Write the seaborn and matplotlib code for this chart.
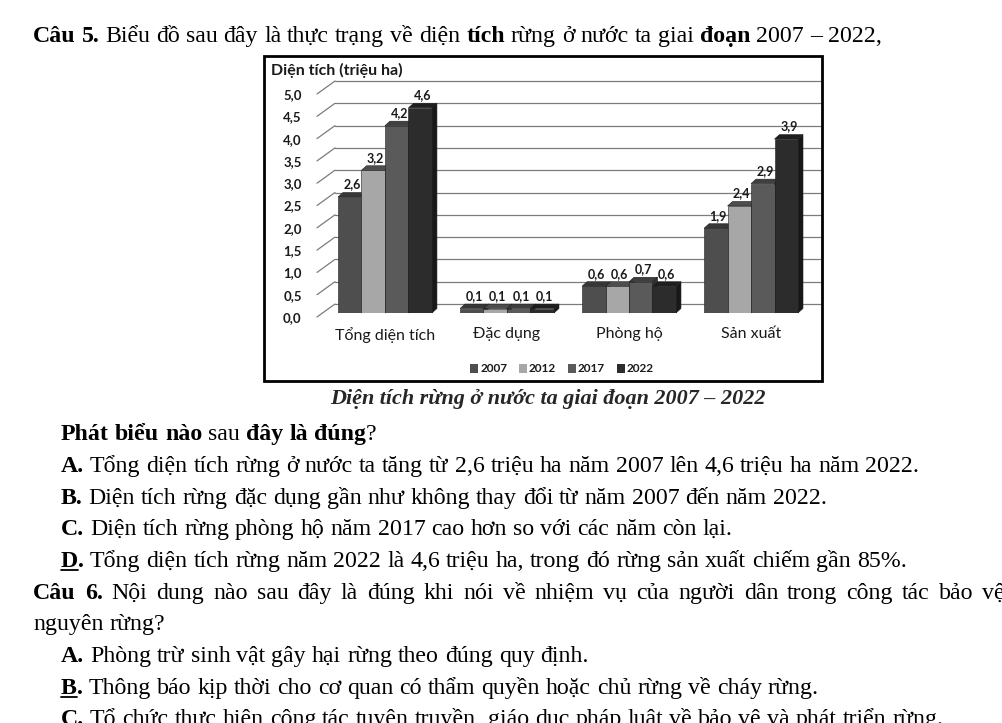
import numpy as np
import pandas as pd
import seaborn as sns
import matplotlib
matplotlib.use("Agg")
import matplotlib.pyplot as plt
from matplotlib.transforms import ScaledTranslation, IdentityTransform
from matplotlib.patches import Polygon, Rectangle, Patch
from matplotlib.lines import Line2D
import matplotlib.colors as mcolors

# ---------------- data ----------------
categories = ["Tổng diện tích", "Đặc dụng", "Phòng hộ", "Sản xuất"]
years = ["2007", "2012", "2017", "2022"]
values_2007 = [2.6, 0.1, 0.6, 1.9]
values_2012 = [3.2, 0.1, 0.6, 2.4]
values_2017 = [4.2, 0.1, 0.7, 2.9]
values_2022 = [4.6, 0.1, 0.6, 3.9]
y_ticks = [0.0, 0.5, 1.0, 1.5, 2.0, 2.5, 3.0, 3.5, 4.0, 4.5, 5.0]
y_tick_labels = ["0,0", "0,5", "1,0", "1,5", "2,0", "2,5", "3,0", "3,5", "4,0", "4,5", "5,0"]
y_title = "Diện tích (triệu ha)"
caption = "Diện tích rừng ở nước ta giai đoạn 2007 – 2022"
bar_colors = ["#4e4e4e", "#a7a7a7", "#5a5a5a", "#2c2c2c"]

header = [("Câu 5.", "b"), (" Biểu đồ sau đây là thực trạng về diện ", "r"), ("tích", "b"),
          (" rừng ở nước ta giai ", "r"), ("đoạn", "b"), (" 2007 – 2022,", "r")]
question = [("Phát biểu nào", "b"), (" sau ", "r"), ("đây là đúng", "b"), ("?", "r")]
opt_a = [("A.", "b"), (" Tổng diện tích rừng ở nước ta tăng từ 2,6 triệu ha năm 2007 lên 4,6 triệu ha năm 2022.", "r")]
opt_b = [("B.", "b"), (" Diện tích rừng đặc dụng gần như không thay đổi từ năm 2007 đến năm 2022.", "r")]
opt_c = [("C.", "b"), (" Diện tích rừng phòng hộ năm 2017 cao hơn so với các năm còn lại.", "r")]
opt_d = [("D", "bu"), (".", "b"), (" Tổng diện tích rừng năm 2022 là 4,6 triệu ha, trong đó rừng sản xuất chiếm gần 85%.", "r")]
q6_line1 = [("Câu 6.", "b"), (" Nội dung nào sau đây là đúng khi nói về nhiệm vụ của người dân trong công tác bảo vệ", "r")]
q6_line2 = [("nguyên rừng?", "r")]
q6_a = [("A.", "b"), (" Phòng trừ sinh vật gây hại rừng theo đúng quy định.", "r")]
q6_b = [("B", "bu"), (".", "b"), (" Thông báo kịp thời cho cơ quan có thẩm quyền hoặc chủ rừng về cháy rừng.", "r")]
q6_c = [("C.", "b"), (" Tổ chức thực hiện công tác tuyên truyền, giáo dục pháp luật về bảo vệ và phát triển rừng.", "r")]

# ---------------- figure ----------------
sns.set_theme(style="white")
plt.rcParams["font.family"] = ["Lato", "DejaVu Sans"]

W, H = 1002, 723
fig = plt.figure(figsize=(W / 100, H / 100), dpi=100)
fig.patch.set_facecolor("white")

def fx(px):
    return px / W

def fy(py):
    return 1 - py / H

ax = fig.add_axes([fx(317), fy(313), (803 - 317) / W, 223 / H])
ax.set_facecolor("none")

rows = []
for yr, vals in zip(years, [values_2007, values_2012, values_2017, values_2022]):
    for c, v in zip(categories, vals):
        rows.append({"cat": c, "val": v, "year": yr})
df = pd.DataFrame(rows)

sns.barplot(data=df, x="cat", y="val", hue="year", order=categories, hue_order=years,
            palette=dict(zip(years, bar_colors)), width=0.77, saturation=1,
            errorbar=None, legend=False, ax=ax, linewidth=0.4, edgecolor="#1e1e1e")

ax.set_xlim(-0.557, 3.426)
ax.set_ylim(0, 5)
for s in ax.spines.values():
    s.set_visible(False)
ax.set_xlabel("")
ax.set_ylabel("")
ax.grid(False)

ax.set_yticks(y_ticks)
ax.set_yticklabels(y_tick_labels, fontsize=9.5, fontweight="bold", color="#1a1a1a")
ax.tick_params(axis="y", length=0, pad=11)
for lab in ax.get_yticklabels():
    lab.set_transform(lab.get_transform() + ScaledTranslation(0, -0.04, fig.dpi_scale_trans))
ax.tick_params(axis="x", length=0, pad=10)
for lab in ax.get_xticklabels():
    lab.set_fontsize(11.5)
    lab.set_color("#1a1a1a")

# back-wall grid (3D look)
wall_dx, wall_dy = 18, 13
grid_tr = ax.get_yaxis_transform() + ScaledTranslation(wall_dx / 100, 0.09, fig.dpi_scale_trans)
for v in y_ticks:
    ax.add_line(Line2D([0, 1], [v, v], transform=grid_tr, color="#7c7c7c", lw=0.9,
                       zorder=0.5, clip_on=False))
    px, py = ax.transData.transform((ax.get_xlim()[0], v))
    ax.add_line(Line2D([px, px + wall_dx], [py - 4, py + 9], transform=IdentityTransform(),
                       color="#7c7c7c", lw=0.9, zorder=0.5, clip_on=False))

# 3D faces for bars
dx, dy = 5, 4.5
bars = sorted([p for p in ax.patches], key=lambda p: p.get_x())
for k, p in enumerate(bars):
    x0 = p.get_x()
    x1 = x0 + p.get_width()
    h = p.get_height()
    fc = np.array(mcolors.to_rgb(p.get_facecolor()))
    X0, Y1 = ax.transData.transform((x0, h))
    X1, Y0 = ax.transData.transform((x1, 0))
    base = 3 + k * 0.1
    side = Polygon([(X1, Y0), (X1 + dx, Y0 + dy), (X1 + dx, Y1 + dy), (X1, Y1)],
                   closed=True, transform=IdentityTransform(), facecolor=fc * 0.55,
                   edgecolor="#1e1e1e", lw=0.4, zorder=base, clip_on=False)
    top = Polygon([(X0, Y1), (X1, Y1), (X1 + dx, Y1 + dy), (X0 + dx, Y1 + dy)],
                  closed=True, transform=IdentityTransform(), facecolor=np.minimum(fc * 0.7, 0.3),
                  edgecolor="#1e1e1e", lw=0.4, zorder=base + 0.02, clip_on=False)
    ax.add_artist(side)
    ax.add_artist(top)
    p.set_zorder(base + 0.05)

# value labels
lab_tr = ax.transData + ScaledTranslation(dx / 2 / 100, 0.065, fig.dpi_scale_trans)
for cont, vals in zip(ax.containers, [values_2007, values_2012, values_2017, values_2022]):
    for p, v in zip(cont.patches, vals):
        ax.text(p.get_x() + p.get_width() / 2, v, f"{v:.1f}".replace(".", ","),
                transform=lab_tr, ha="center", va="bottom", fontsize=9,
                fontweight="bold", color="#1a1a1a", zorder=20, clip_on=False)

# axis title
fig.text(fx(271), fy(70), y_title, ha="left", va="center", fontsize=11.5,
         fontweight="bold", color="#1a1a1a")

# legend
handles = [Patch(facecolor=c, edgecolor="none", label=y) for c, y in zip(bar_colors, years)]
fig.legend(handles=handles, loc="center", bbox_to_anchor=(fx(562), fy(369)), ncol=4,
           frameon=False, prop={"weight": "bold", "size": 8.5}, handlelength=0.7,
           handleheight=0.7, handletextpad=0.15, columnspacing=1.0, borderpad=0,
           borderaxespad=0, labelcolor="#1a1a1a")

# chart frame
fig.add_artist(Rectangle((fx(264), fy(381)), (822 - 264) / W, (381 - 56) / H,
                         transform=fig.transFigure, fill=False, lw=2, ec="black"))

# caption
fig.text(fx(548), fy(404), caption, ha="center", va="baseline", fontsize=15.9,
         fontweight="bold", fontstyle="italic", family=["Liberation Serif", "DejaVu Serif"])

# ---------------- page text ----------------
SERIF = ["Liberation Serif", "DejaVu Serif"]
renderer = fig.canvas.get_renderer()

def draw_runs(x, ybase, segs, size=17.2, justify_to=None):
    pieces = []
    for text, fmt in segs:
        parts = text.split(" ")
        for j, part in enumerate(parts):
            if j > 0:
                pieces.append(None)
            if part:
                pieces.append((part, fmt))
    arts = []
    for pc in pieces:
        if pc is None:
            arts.append(None)
            continue
        word, fmt = pc
        t = fig.text(0, fy(ybase), word, ha="left", va="baseline", fontsize=size,
                     fontweight="bold" if "b" in fmt else "normal",
                     fontstyle="italic" if "i" in fmt else "normal",
                     family=SERIF, color="black")
        arts.append((t, fmt, t.get_window_extent(renderer).width))
    space = 0.25 * size * 100 / 72
    if justify_to is not None:
        nsp = sum(1 for a in arts if a is None)
        total = sum(a[2] for a in arts if a is not None)
        space = (justify_to - x - total) / max(nsp, 1)
    cur = x
    for a in arts:
        if a is None:
            cur += space
            continue
        t, fmt, w = a
        t.set_x(fx(cur))
        if "u" in fmt:
            fig.add_artist(Line2D([fx(cur), fx(cur + w)], [fy(ybase + 2.5), fy(ybase + 2.5)],
                                  transform=fig.transFigure, color="black", lw=1.3))
        cur += w

draw_runs(33, 42, header)
draw_runs(61, 440, question)
draw_runs(61, 472, opt_a)
draw_runs(61, 504, opt_b)
draw_runs(61, 535, opt_c)
draw_runs(61, 567, opt_d)
draw_runs(33, 599, q6_line1, justify_to=1005)
draw_runs(33, 630, q6_line2)
draw_runs(61, 662, q6_a)
draw_runs(61, 694, q6_b)
draw_runs(61, 725, q6_c)

fig.savefig("out.png", dpi=100, facecolor="white")
